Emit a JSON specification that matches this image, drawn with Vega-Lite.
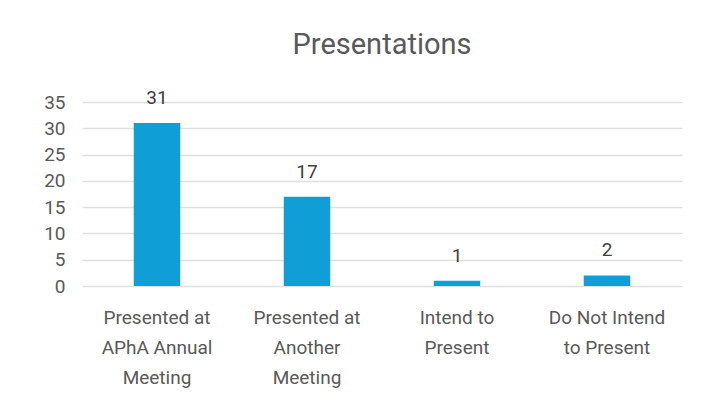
{
  "$schema": "https://vega.github.io/schema/vega-lite/v6.json",
  "width": 600,
  "height": 184,
  "autosize": {"type": "none"},
  "padding": {"left": 82, "top": 102, "right": 33, "bottom": 120},
  "background": "white",
  "title": {
    "text": "Presentations",
    "fontSize": 29,
    "font": "Roboto",
    "fontWeight": 400,
    "color": "#595959",
    "anchor": "middle",
    "offset": 29
  },
  "data": {
    "values": [
      {"category": "Presented at APhA Annual Meeting", "count": 31},
      {"category": "Presented at Another Meeting", "count": 17},
      {"category": "Intend to Present", "count": 1},
      {"category": "Do Not Intend to Present", "count": 2}
    ]
  },
  "config": {
    "view": {"stroke": null},
    "font": "Roboto"
  },
  "encoding": {
    "x": {
      "field": "category",
      "type": "nominal",
      "sort": null,
      "scale": {"paddingInner": 0.69, "paddingOuter": 0.345},
      "axis": {
        "title": null,
        "labelAngle": 0,
        "domain": false,
        "ticks": false,
        "labelFontSize": 19,
        "labelColor": "#595959",
        "labelPadding": 22,
        "labelLineHeight": 30,
        "labelLimit": 0,
        "labelExpr": "datum.value == 'Presented at APhA Annual Meeting' ? ['Presented at', 'APhA Annual', 'Meeting'] : datum.value == 'Presented at Another Meeting' ? ['Presented at', 'Another', 'Meeting'] : datum.value == 'Intend to Present' ? ['Intend to', 'Present'] : ['Do Not Intend', 'to Present']"
      }
    },
    "y": {
      "field": "count",
      "type": "quantitative",
      "scale": {"domain": [0, 35], "nice": false},
      "axis": {
        "title": null,
        "values": [0, 5, 10, 15, 20, 25, 30, 35],
        "domain": false,
        "ticks": false,
        "labelFontSize": 19,
        "labelColor": "#595959",
        "labelPadding": 17,
        "gridColor": "#e0e0e0",
        "gridWidth": 1.5
      }
    }
  },
  "layer": [
    {"mark": {"type": "bar", "color": "#0F9ED5"}},
    {
      "mark": {"type": "text", "dy": -25, "fontSize": 19, "color": "#404040"},
      "encoding": {"text": {"field": "count", "type": "quantitative"}}
    }
  ]
}
